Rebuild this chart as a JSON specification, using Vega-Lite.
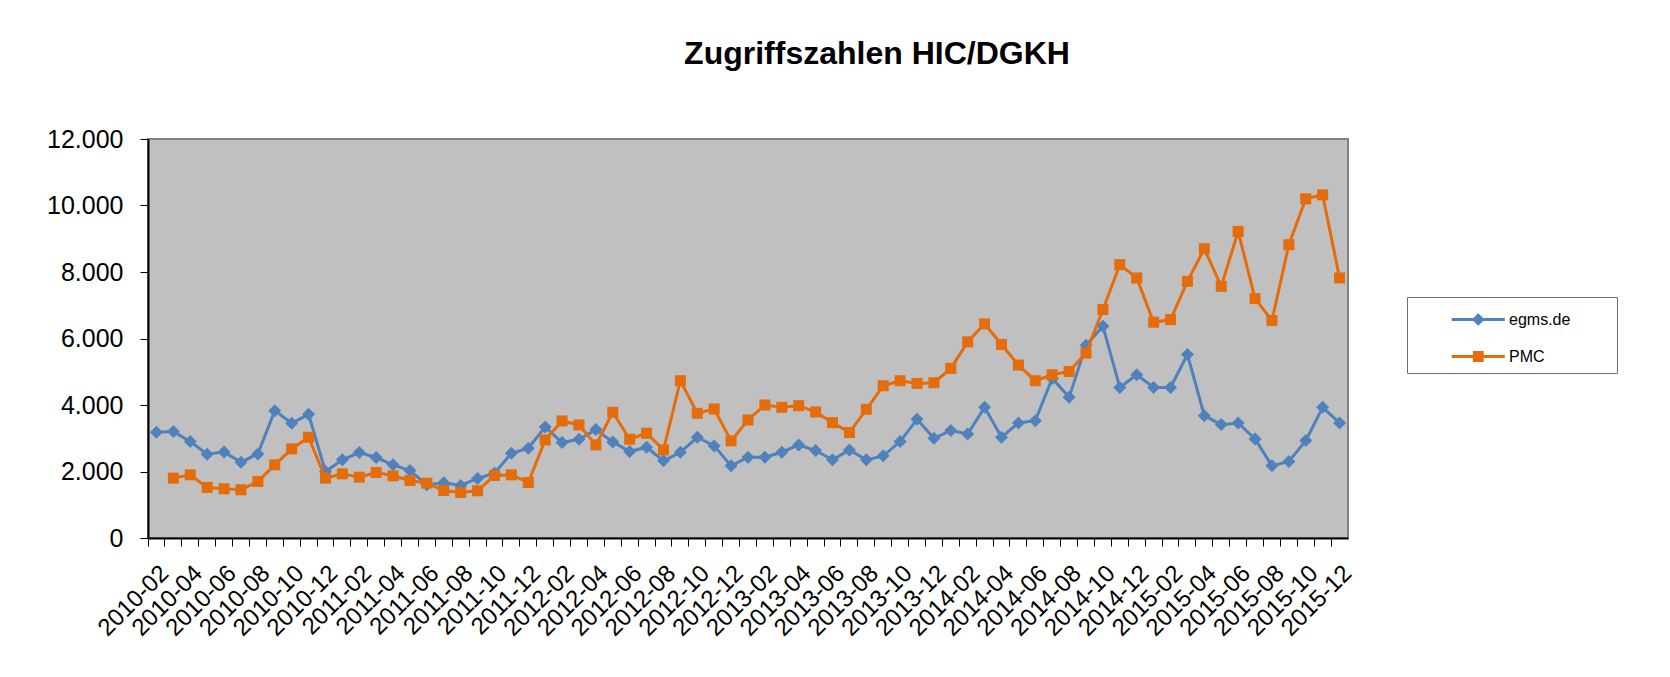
{
  "$schema": "https://vega.github.io/schema/vega-lite/v6.json",
  "autosize": {"type": "none"},
  "padding": {"left": 148, "top": 139, "right": 322, "bottom": 140},
  "width": 1200,
  "height": 399,
  "background": "white",
  "title": {
    "text": "Zugriffszahlen HIC/DGKH",
    "font": "Liberation Sans",
    "fontSize": 32,
    "fontWeight": "bold",
    "color": "black",
    "anchor": "middle",
    "dx": 129,
    "baseline": "alphabetic",
    "offset": 31
  },
  "config": {
    "view": {"fill": "#C0C0C0", "stroke": "#808080", "strokeWidth": 2},
    "font": "Liberation Sans"
  },
  "datasets": {
    "rows": [
      {"m":"2010-02","s":"egms.de","v":3180},{"m":"2010-03","s":"egms.de","v":3200},{"m":"2010-04","s":"egms.de","v":2900},{"m":"2010-05","s":"egms.de","v":2520},{"m":"2010-06","s":"egms.de","v":2590},{"m":"2010-07","s":"egms.de","v":2280},{"m":"2010-08","s":"egms.de","v":2530},{"m":"2010-09","s":"egms.de","v":3830},{"m":"2010-10","s":"egms.de","v":3450},{"m":"2010-11","s":"egms.de","v":3720},{"m":"2010-12","s":"egms.de","v":2000},
      {"m":"2011-01","s":"egms.de","v":2350},{"m":"2011-02","s":"egms.de","v":2570},{"m":"2011-03","s":"egms.de","v":2420},{"m":"2011-04","s":"egms.de","v":2200},{"m":"2011-05","s":"egms.de","v":2030},{"m":"2011-06","s":"egms.de","v":1600},{"m":"2011-07","s":"egms.de","v":1660},{"m":"2011-08","s":"egms.de","v":1580},{"m":"2011-09","s":"egms.de","v":1790},{"m":"2011-10","s":"egms.de","v":1950},{"m":"2011-11","s":"egms.de","v":2550},{"m":"2011-12","s":"egms.de","v":2700},
      {"m":"2012-01","s":"egms.de","v":3340},{"m":"2012-02","s":"egms.de","v":2870},{"m":"2012-03","s":"egms.de","v":2970},{"m":"2012-04","s":"egms.de","v":3260},{"m":"2012-05","s":"egms.de","v":2890},{"m":"2012-06","s":"egms.de","v":2600},{"m":"2012-07","s":"egms.de","v":2730},{"m":"2012-08","s":"egms.de","v":2320},{"m":"2012-09","s":"egms.de","v":2580},{"m":"2012-10","s":"egms.de","v":3030},{"m":"2012-11","s":"egms.de","v":2770},{"m":"2012-12","s":"egms.de","v":2170},
      {"m":"2013-01","s":"egms.de","v":2430},{"m":"2013-02","s":"egms.de","v":2430},{"m":"2013-03","s":"egms.de","v":2580},{"m":"2013-04","s":"egms.de","v":2800},{"m":"2013-05","s":"egms.de","v":2630},{"m":"2013-06","s":"egms.de","v":2350},{"m":"2013-07","s":"egms.de","v":2650},{"m":"2013-08","s":"egms.de","v":2350},{"m":"2013-09","s":"egms.de","v":2470},{"m":"2013-10","s":"egms.de","v":2900},{"m":"2013-11","s":"egms.de","v":3570},{"m":"2013-12","s":"egms.de","v":3000},
      {"m":"2014-01","s":"egms.de","v":3230},{"m":"2014-02","s":"egms.de","v":3130},{"m":"2014-03","s":"egms.de","v":3930},{"m":"2014-04","s":"egms.de","v":3030},{"m":"2014-05","s":"egms.de","v":3460},{"m":"2014-06","s":"egms.de","v":3530},{"m":"2014-07","s":"egms.de","v":4800},{"m":"2014-08","s":"egms.de","v":4230},{"m":"2014-09","s":"egms.de","v":5800},{"m":"2014-10","s":"egms.de","v":6370},{"m":"2014-11","s":"egms.de","v":4530},{"m":"2014-12","s":"egms.de","v":4910},
      {"m":"2015-01","s":"egms.de","v":4530},{"m":"2015-02","s":"egms.de","v":4530},{"m":"2015-03","s":"egms.de","v":5520},{"m":"2015-04","s":"egms.de","v":3680},{"m":"2015-05","s":"egms.de","v":3410},{"m":"2015-06","s":"egms.de","v":3460},{"m":"2015-07","s":"egms.de","v":2980},{"m":"2015-08","s":"egms.de","v":2170},{"m":"2015-09","s":"egms.de","v":2300},{"m":"2015-10","s":"egms.de","v":2930},{"m":"2015-11","s":"egms.de","v":3930},{"m":"2015-12","s":"egms.de","v":3460},
      {"m":"2010-03","s":"PMC","v":1800},{"m":"2010-04","s":"PMC","v":1900},{"m":"2010-05","s":"PMC","v":1520},{"m":"2010-06","s":"PMC","v":1480},{"m":"2010-07","s":"PMC","v":1450},{"m":"2010-08","s":"PMC","v":1700},{"m":"2010-09","s":"PMC","v":2200},{"m":"2010-10","s":"PMC","v":2680},{"m":"2010-11","s":"PMC","v":3030},{"m":"2010-12","s":"PMC","v":1800},
      {"m":"2011-01","s":"PMC","v":1930},{"m":"2011-02","s":"PMC","v":1830},{"m":"2011-03","s":"PMC","v":1970},{"m":"2011-04","s":"PMC","v":1870},{"m":"2011-05","s":"PMC","v":1730},{"m":"2011-06","s":"PMC","v":1650},{"m":"2011-07","s":"PMC","v":1430},{"m":"2011-08","s":"PMC","v":1370},{"m":"2011-09","s":"PMC","v":1420},{"m":"2011-10","s":"PMC","v":1880},{"m":"2011-11","s":"PMC","v":1900},{"m":"2011-12","s":"PMC","v":1670},
      {"m":"2012-01","s":"PMC","v":2950},{"m":"2012-02","s":"PMC","v":3520},{"m":"2012-03","s":"PMC","v":3400},{"m":"2012-04","s":"PMC","v":2800},{"m":"2012-05","s":"PMC","v":3780},{"m":"2012-06","s":"PMC","v":2970},{"m":"2012-07","s":"PMC","v":3150},{"m":"2012-08","s":"PMC","v":2650},{"m":"2012-09","s":"PMC","v":4730},{"m":"2012-10","s":"PMC","v":3750},{"m":"2012-11","s":"PMC","v":3880},{"m":"2012-12","s":"PMC","v":2920},
      {"m":"2013-01","s":"PMC","v":3550},{"m":"2013-02","s":"PMC","v":4000},{"m":"2013-03","s":"PMC","v":3930},{"m":"2013-04","s":"PMC","v":3980},{"m":"2013-05","s":"PMC","v":3790},{"m":"2013-06","s":"PMC","v":3470},{"m":"2013-07","s":"PMC","v":3170},{"m":"2013-08","s":"PMC","v":3870},{"m":"2013-09","s":"PMC","v":4580},{"m":"2013-10","s":"PMC","v":4730},{"m":"2013-11","s":"PMC","v":4650},{"m":"2013-12","s":"PMC","v":4670},
      {"m":"2014-01","s":"PMC","v":5100},{"m":"2014-02","s":"PMC","v":5900},{"m":"2014-03","s":"PMC","v":6440},{"m":"2014-04","s":"PMC","v":5820},{"m":"2014-05","s":"PMC","v":5200},{"m":"2014-06","s":"PMC","v":4730},{"m":"2014-07","s":"PMC","v":4910},{"m":"2014-08","s":"PMC","v":5010},{"m":"2014-09","s":"PMC","v":5560},{"m":"2014-10","s":"PMC","v":6870},{"m":"2014-11","s":"PMC","v":8220},{"m":"2014-12","s":"PMC","v":7820},
      {"m":"2015-01","s":"PMC","v":6490},{"m":"2015-02","s":"PMC","v":6570},{"m":"2015-03","s":"PMC","v":7720},{"m":"2015-04","s":"PMC","v":8700},{"m":"2015-05","s":"PMC","v":7570},{"m":"2015-06","s":"PMC","v":9220},{"m":"2015-07","s":"PMC","v":7200},{"m":"2015-08","s":"PMC","v":6540},{"m":"2015-09","s":"PMC","v":8820},{"m":"2015-10","s":"PMC","v":10200},{"m":"2015-11","s":"PMC","v":10320},{"m":"2015-12","s":"PMC","v":7820}
    ]
  },
  "data": {"name": "rows"},
  "encoding": {
    "x": {
      "field": "m",
      "type": "ordinal",
      "bandPosition": 0.5,
      "scale": {"type": "band", "paddingInner": 0, "paddingOuter": 0},
      "axis": {
        "title": null,
        "bandPosition": 0,
        "labelExpr": "isString(datum.value) && toNumber(substring(datum.value, 5, 7)) % 2 == 0 ? datum.value : ''",
        "labelAngle": -45,
        "labelFontSize": 24,
        "labelFont": "Liberation Sans",
        "labelColor": "black",
        "labelOverlap": false,
        "labelPadding": 15,
        "tickColor": "black",
        "tickSize": 8,
        "domainColor": "black",
        "domainWidth": 2,
        "grid": false
      }
    },
    "y": {
      "field": "v",
      "type": "quantitative",
      "scale": {"domain": [0, 12000], "nice": false},
      "axis": {
        "title": null,
        "values": [0, 2000, 4000, 6000, 8000, 10000, 12000],
        "labelExpr": "replace(format(datum.value, ','), ',', '.')",
        "labelFontSize": 25,
        "labelFont": "Liberation Sans",
        "labelColor": "black",
        "labelPadding": 17,
        "tickColor": "black",
        "tickSize": 8,
        "domainColor": "black",
        "domainWidth": 2,
        "grid": false
      }
    },
    "color": {
      "field": "s",
      "type": "nominal",
      "scale": {"domain": ["egms.de", "PMC"], "range": ["#4F81BD", "#E46C0A"]},
      "legend": {
        "title": null,
        "orient": "none",
        "legendX": 1259,
        "legendY": 158,
        "padding": 6,
        "strokeColor": "#707070",
        "fillColor": "white",
        "labelFont": "Liberation Sans",
        "labelFontSize": 16,
        "labelColor": "black",
        "labelOffset": 63,
        "labelExpr": "datum.label == 'egms.de' ? 'egms.de\u00a0\u00a0\u00a0\u00a0\u00a0\u00a0\u00a0\u00a0\u00a0\u200b' : datum.label",
        "symbolSize": 900,
        "rowPadding": 10,
        "encode": {
          "symbols": {
            "update": {
              "shape": {"signal": "datum.value == 'egms.de' ? 'M1.48,0H5.02M3.25,-0.28L3.53,0L3.25,0.28L2.97,0Z' : 'M1.48,0H5.02M2.99,-0.26H3.51V0.26H2.99Z'"},
              "fill": {"signal": "datum.value == 'egms.de' ? '#4F81BD' : '#E46C0A'"},
              "stroke": {"signal": "datum.value == 'egms.de' ? '#4F81BD' : '#E46C0A'"},
              "strokeWidth": {"value": 3},
              "size": {"value": 900},
              "opacity": {"value": 1}
            }
          }
        }
      }
    }
  },
  "layer": [
    {"transform": [{"filter": "datum.s == 'egms.de'"}], "mark": {"type": "line", "strokeWidth": 3}},
    {"transform": [{"filter": "datum.s == 'egms.de'"}], "mark": {"type": "point", "shape": "diamond", "size": 169, "filled": true, "opacity": 1}},
    {"transform": [{"filter": "datum.s == 'PMC'"}], "mark": {"type": "line", "strokeWidth": 3}},
    {"transform": [{"filter": "datum.s == 'PMC'"}], "mark": {"type": "point", "shape": "square", "size": 121, "filled": true, "opacity": 1}}
  ]
}
